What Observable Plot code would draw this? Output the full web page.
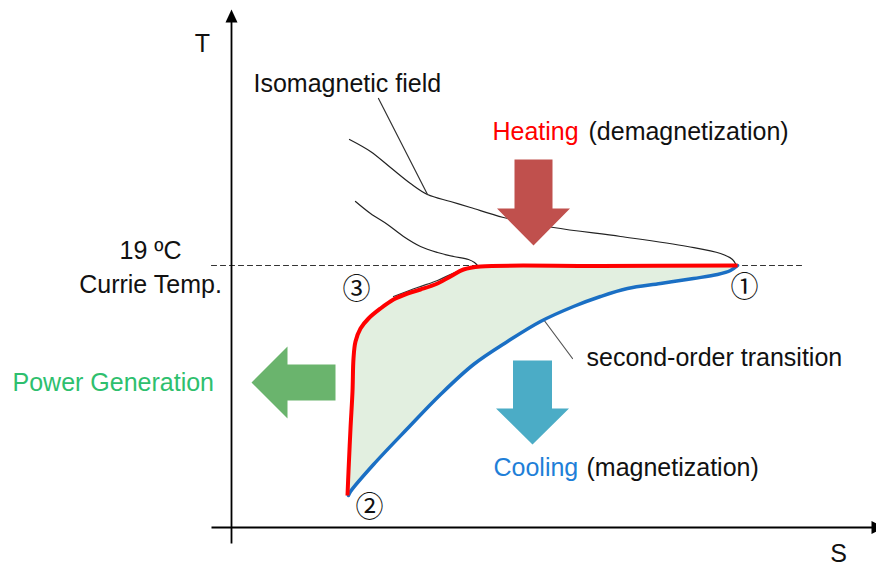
<!DOCTYPE html>
<html><head><meta charset="utf-8">
<script src="https://cdn.jsdelivr.net/npm/d3@7"></script>
<script src="https://cdn.jsdelivr.net/npm/@observablehq/plot@0.6"></script>
<style>html,body{margin:0;padding:0;background:#fff;} svg{display:block;}</style>
</head><body><div id="chart"></div>
<script>
// T–S diagram of a magnetocaloric cycle (arbitrary units: S entropy, T temperature)
const heatingS = [116,117,119,121,122,124,129,137,149,162,176,189,206,219,232,249,369,506];
const heatingT = [32,56,99,136,169,186,199,209,219,228,234,238,244,251,258,261,261.5,262];
const coolingS = [117,119,142,176,209,242,276,309,342,369,396,429,462,486,499,506];
const coolingT = [32,36,63,99,133,163,186,206,221,231,239,244,249,253,257,262];
const isoHighS = [118,139,159,179,196,219,239,272,322,389,456,489,501,505];
const isoHighT = [388,376,360,344,333,326,320,310,300,291,281,274,268,262];
const isoLowS = [124,139,156,172,189,206,222,237,243,246];
const isoLowT = [326,314,303,291,281,275,271,268,265,262];
const isoLowTailS = [162,186,206,221,234,246];
const isoLowTailT = [231,240,247,254,259,262];
const curieT = 262;
const curieSpan = [-20, 572];
const axisS = [-20, 653];
const axisT = [-16, 518];
const leaderIso = [[147,429],[196,333]];
const leaderSecond = [[312,208],[341,169]];
// block arrows: tip, direction, head length / half-width, shaft length / half-width
const arrowHeating = {tip:[302,282], dir:[0,-1], head:37, headHalf:36.5, shaft:49, shaftHalf:19};
const arrowCooling = {tip:[301,83], dir:[0,-1], head:36, headHalf:36.5, shaft:48, shaftHalf:19.5};
const arrowPower = {tip:[20,145], dir:[-1,0], head:36, headHalf:36, shaft:48, shaftHalf:18};
const arrowAxisT = {tip:[0,518], dir:[0,1], head:13, headHalf:6, shaft:0, shaftHalf:0};
const arrowAxisS = {tip:[653,0], dir:[1,0], head:13, headHalf:6.5, shaft:0, shaftHalf:0};
// centred annotations: text, S, T
const centredLabels = [
  {text:"T", S:-29, T:484},
  {text:"S", S:607, T:-26},
  {text:"19 ºC", S:-81, T:277},
  {text:"Currie Temp.", S:-81, T:243}
];
// left-aligned annotations
const startLabels = [
  {text:"Isomagnetic field", S:22, T:444},
  {text:"second-order transition", S:355, T:170},
  {text:"(demagnetization)", S:357, T:396},
  {text:"(magnetization)", S:355, T:60}
];
const colored = [
  {text:"Heating", S:261, T:396, color:"#ff0000"},
  {text:"Cooling", S:262, T:60, color:"#1f7fd8"},
  {text:"Power Generation", S:-219, T:145, color:"#2ebf6e"}
];
const states = [
  {text:"①", S:513, T:239},
  {text:"②", S:138, T:19},
  {text:"③", S:125, T:237}
];

const zip = (a, b) => a.map((v, i) => [v, b[i]]);
const heating = zip(heatingS, heatingT);
const cooling = zip(coolingS, coolingT);
const cycle = heating.concat(cooling.slice().reverse());

function blockArrow(a) {
  const [dx, dy] = a.dir, px = -dy, py = dx;
  const [tx, ty] = a.tip;
  const bx = tx - dx * a.head, by = ty - dy * a.head;
  const ex = bx - dx * a.shaft, ey = by - dy * a.shaft;
  return [[tx, ty],
    [bx + px * a.headHalf, by + py * a.headHalf],
    [bx + px * a.shaftHalf, by + py * a.shaftHalf],
    [ex + px * a.shaftHalf, ey + py * a.shaftHalf],
    [ex - px * a.shaftHalf, ey - py * a.shaftHalf],
    [bx - px * a.shaftHalf, by - py * a.shaftHalf],
    [bx - px * a.headHalf, by - py * a.headHalf]];
}
const poly = (a, fill) => Plot.line(blockArrow(a), {x: d => d[0], y: d => d[1], fill, stroke: "none", curve: "linear-closed"});
const font = "'Liberation Sans', Arial, sans-serif";
const P = {x: d => d[0], y: d => d[1]};

const chart = Plot.plot({
  width: 876, height: 565, margin: 0,
  x: {domain: [0, 655], range: [231, 886], axis: null},
  y: {domain: [0, 518], range: [527, 9], axis: null},
  style: {background: "#fff", overflow: "hidden"},
  marks: [
    Plot.line(cycle, {...P, fill: "#e2efe0", stroke: "none", curve: "catmull-rom"}),
    Plot.line([[curieSpan[0], curieT], [curieSpan[1], curieT]], {...P, stroke: "#333", strokeWidth: 1.2, strokeDasharray: "5,4"}),
    Plot.line(zip(isoHighS, isoHighT), {...P, stroke: "#222", strokeWidth: 1.2, curve: "catmull-rom"}),
    Plot.line(zip(isoLowS, isoLowT), {...P, stroke: "#222", strokeWidth: 1.2, curve: "catmull-rom"}),
    Plot.line(zip(isoLowTailS, isoLowTailT), {...P, stroke: "#333", strokeWidth: 1.2, curve: "catmull-rom"}),
    Plot.line(leaderIso, {...P, stroke: "#333", strokeWidth: 1.2}),
    Plot.line(leaderSecond, {...P, stroke: "#555", strokeWidth: 1.2}),
    Plot.line(cooling, {...P, stroke: "#1a6fc4", strokeWidth: 3.5, curve: "catmull-rom"}),
    Plot.line(heating, {...P, stroke: "#ff0000", strokeWidth: 4, curve: "catmull-rom", strokeLinecap: "butt"}),
    Plot.line([[0, axisT[0]], [0, axisT[1] - 12]], {...P, stroke: "#000", strokeWidth: 1.8, strokeLinecap: "butt"}),
    Plot.line([[axisS[0], 0], [axisS[1] - 12, 0]], {...P, stroke: "#000", strokeWidth: 1.8, strokeLinecap: "butt"}),
    poly(arrowAxisT, "#000"),
    poly(arrowAxisS, "#000"),
    poly(arrowHeating, "#c0504d"),
    poly(arrowCooling, "#4bacc6"),
    poly(arrowPower, "#6ab46d"),
    Plot.text(centredLabels, {x: "S", y: "T", text: "text", textAnchor: "middle", fontSize: 25, fontFamily: font, fill: "#111"}),
    Plot.text(startLabels, {x: "S", y: "T", text: "text", textAnchor: "start", fontSize: 25, fontFamily: font, fill: "#111"}),
    Plot.text(colored, {x: "S", y: "T", text: "text", textAnchor: "start", fontSize: 25, fontFamily: font, fill: d => d.color}),
    Plot.text(states, {x: "S", y: "T", text: "text", fontSize: 28, fontFamily: "'Noto Sans CJK JP', sans-serif", fill: "#111"})
  ]
});
document.getElementById("chart").appendChild(chart);
</script>
</body></html>
